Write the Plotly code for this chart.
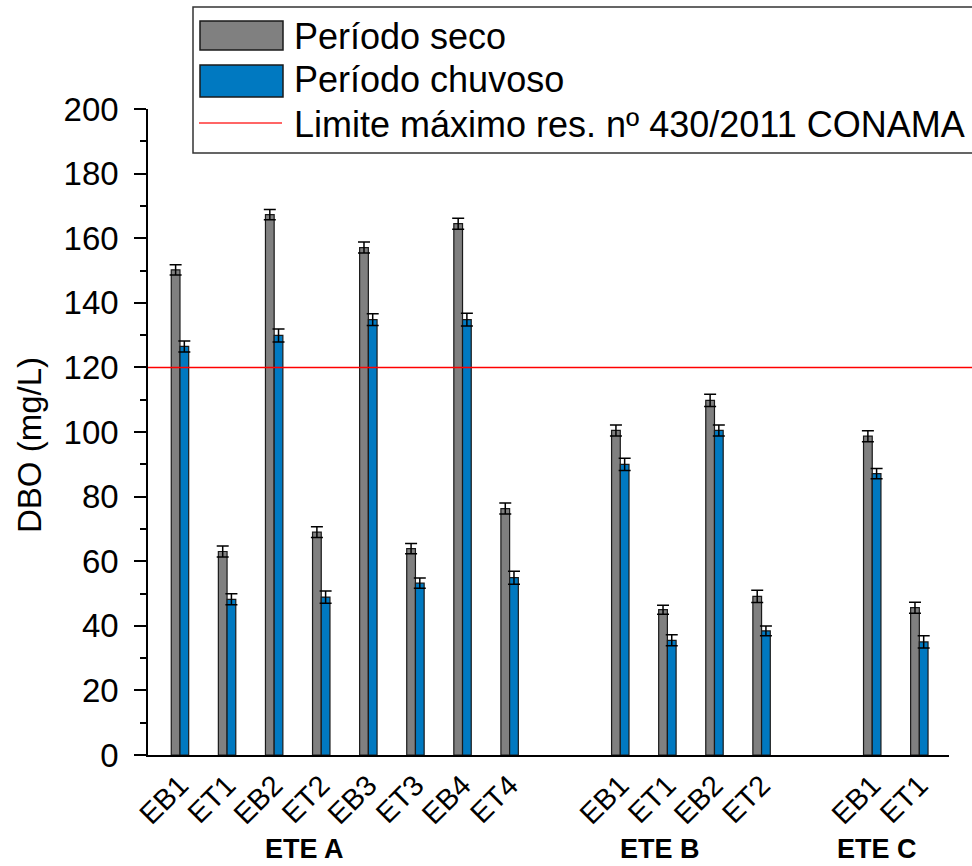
import plotly.graph_objects as go

# ---------------- data ----------------
groups = ["ETE A", "ETE B", "ETE C"]
group_sites = [
    ["EB1", "ET1", "EB2", "ET2", "EB3", "ET3", "EB4", "ET4"],
    ["EB1", "ET1", "EB2", "ET2"],
    ["EB1", "ET1"],
]
seco = [150.2, 63.0, 167.3, 69.0, 157.1, 63.9, 164.5, 76.3,
        100.5, 45.0, 109.8, 49.1,
        98.7, 45.6]
seco_err = [1.6, 1.7, 1.6, 1.7, 1.7, 1.6, 1.7, 1.7,
            1.7, 1.4, 1.9, 1.9,
            1.7, 1.7]
chuvoso = [126.5, 48.2, 129.9, 48.9, 134.8, 53.2, 134.8, 54.9,
           90.0, 35.5, 100.5, 38.4,
           87.1, 35.0]
chuvoso_err = [1.7, 1.7, 2.0, 1.9, 1.8, 1.6, 2.0, 2.0,
               1.9, 1.7, 1.7, 1.5,
               1.6, 1.9]
limite = 120
legend_names = ["Período seco", "Período chuvoso", "Limite máximo res. nº 430/2011 CONAMA"]

# ---------------- layout helpers ----------------
W, H = 972, 866
L, R, T, B = 148, 23, 109, 111
PW, PH = W - L - R, H - T - B
GROUP_GAP = 2.35
FONT = "Arial, Liberation Sans, sans-serif"

xpos, labels = [], []
cur = 0.0
for sites in group_sites:
    for s in sites:
        xpos.append(cur)
        labels.append(s)
        cur += 1
    cur = cur - 1 + GROUP_GAP

x_min = -0.679
x_max = xpos[-1] + 0.63

def px(xp):
    return (xp - L) / PW

def py(yp):
    return (H - B - yp) / PH

BW = 0.185
GRAY = "#808080"
BLUE = "#0079C1"

fig = go.Figure()
fig.add_trace(go.Bar(
    x=xpos, y=seco, name=legend_names[0], width=BW, offset=-BW,
    marker=dict(color=GRAY, line=dict(color="#1a1a1a", width=1.2)),
    error_y=dict(type="data", array=seco_err, visible=True, color="black", thickness=1.5, width=6),
    showlegend=False,
))
fig.add_trace(go.Bar(
    x=xpos, y=chuvoso, name=legend_names[1], width=BW, offset=0,
    marker=dict(color=BLUE, line=dict(color="#1a1a1a", width=1.2)),
    error_y=dict(type="data", array=chuvoso_err, visible=True, color="black", thickness=1.5, width=6),
    showlegend=False,
))

shapes = []
# limit line (in data y)
shapes.append(dict(type="line", xref="paper", yref="y", x0=0, x1=px(W), y0=limite, y1=limite,
                   line=dict(color="#FF0000", width=1.5), layer="above"))

# manual legend
shapes.append(dict(type="rect", xref="paper", yref="paper", x0=px(193), x1=px(1000), y0=py(153), y1=py(7),
                   line=dict(color="#333333", width=1.5), fillcolor="white", layer="above"))
shapes.append(dict(type="rect", xref="paper", yref="paper", x0=px(200), x1=px(283), y0=py(50), y1=py(21),
                   line=dict(color="#1a1a1a", width=1.5), fillcolor=GRAY, layer="above"))
shapes.append(dict(type="rect", xref="paper", yref="paper", x0=px(200), x1=px(283), y0=py(97), y1=py(65),
                   line=dict(color="#1a1a1a", width=1.5), fillcolor=BLUE, layer="above"))
shapes.append(dict(type="line", xref="paper", yref="paper", x0=px(199), x1=px(282), y0=py(123), y1=py(123),
                   line=dict(color="#FF3333", width=1.5), layer="above"))

annotations = []
for name, yc in zip(legend_names, [36, 80, 124]):
    annotations.append(dict(text=name, xref="paper", yref="paper", x=px(292), y=py(yc),
                            xanchor="left", yanchor="middle", showarrow=False,
                            font=dict(family=FONT, size=36, color="black")))

# group labels (x in data coords)
group_label_x = [2.65, 10.2, 14.81]
for g, gx in zip(groups, group_label_x):
    annotations.append(dict(text="<b>" + g + "</b>", xref="x", yref="paper", x=gx, y=py(849),
                            xanchor="center", yanchor="middle", showarrow=False,
                            font=dict(family=FONT, size=27, color="black")))

# y-axis title
annotations.append(dict(text="DBO (mg/L)", xref="paper", yref="paper", x=px(29), y=py(445),
                        textangle=-90, xanchor="center", yanchor="middle", showarrow=False,
                        font=dict(family=FONT, size=33, color="black")))

fig.update_layout(
    width=W, height=H,
    margin=dict(l=L, r=R, t=T, b=B, pad=0),
    paper_bgcolor="white", plot_bgcolor="white",
    barmode="overlay",
    showlegend=False,
    font=dict(family=FONT, color="black"),
    shapes=shapes, annotations=annotations,
    xaxis=dict(range=[x_min, x_max], tickmode="array", tickvals=xpos, ticktext=labels,
               tickangle=-45, ticks="", showline=True, linecolor="black", linewidth=1.5,
               showgrid=False, zeroline=False, tickfont=dict(family=FONT, size=29, color="black")),
    yaxis=dict(range=[0, 200], tickmode="linear", tick0=0, dtick=20, ticks="outside", ticklen=12,
               tickwidth=1.5, tickcolor="black", showline=True, linecolor="black", linewidth=1.5,
               showgrid=False, zeroline=False, ticklabelstandoff=9,
               minor=dict(dtick=10, ticks="outside", ticklen=6, tickwidth=1.5, tickcolor="black", showgrid=False),
               tickfont=dict(family=FONT, size=33, color="black")),
)

fig.write_html("out.html")
